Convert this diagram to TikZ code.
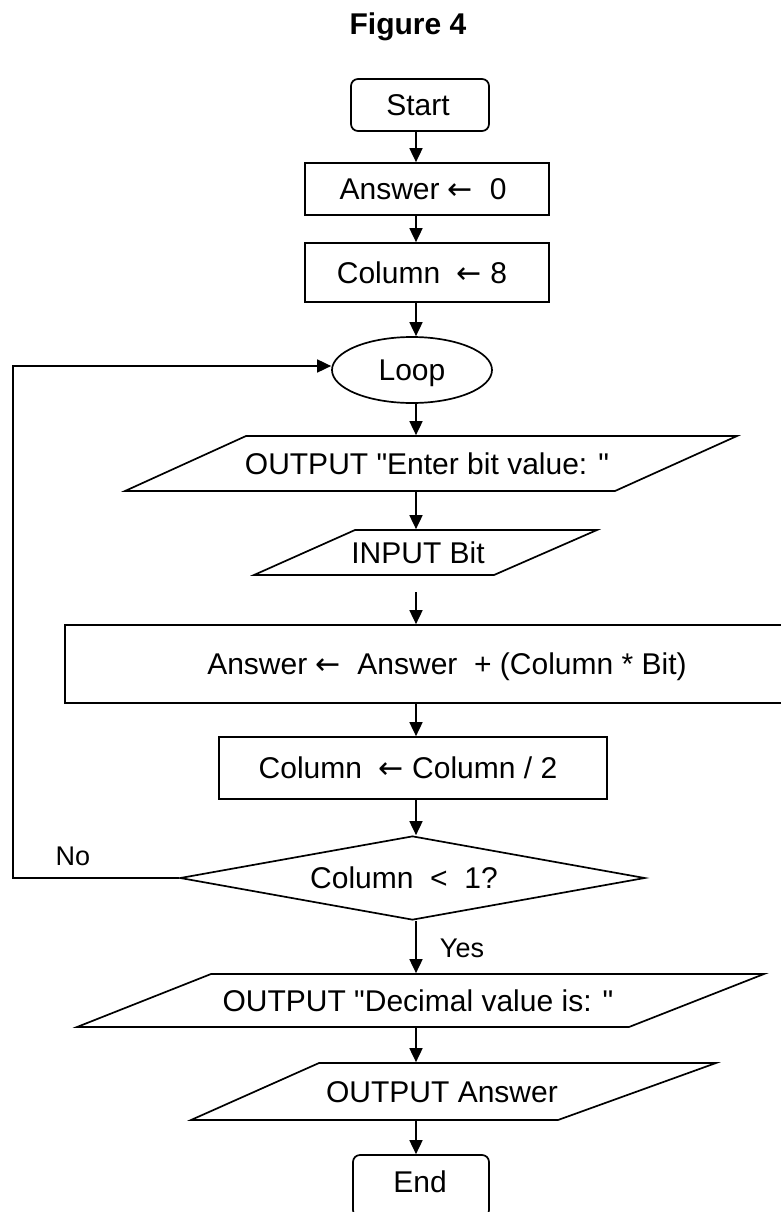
\documentclass[tikz,border=0pt]{standalone}
\usepackage{fontspec}
\setmainfont{Liberation Sans}[Ligatures=TeXOff]
\newfontfamily\arrowfont{DejaVu Sans}
\newcommand{\larr}{{\arrowfont ←}}
\usetikzlibrary{arrows.meta,shapes.geometric}
\begin{document}
\begin{tikzpicture}[x=1pt,y=-1pt,line width=1.7pt,
  box/.style={draw,rectangle,inner sep=0pt},
  txt/.style={font=\fontsize{30}{35}\selectfont,inner sep=0pt,text height=21.5pt,text depth=0pt},
  lbl/.style={font=\fontsize{27}{32}\selectfont,inner sep=0pt,text height=19pt,text depth=0pt},
  anch/.style={inner sep=0pt,minimum width=2pt},
  arr/.style={-{Triangle[length=14pt,width=13pt]}},
  io/.style={draw,line join=miter}]
\useasboundingbox (0,0) rectangle (781,1212);
% title
\node[font=\bfseries\fontsize{30}{35}\selectfont,inner sep=0pt,text height=21pt,text depth=0pt] (title) at (408,24) {Figure 4};
% Start
\node[box,rounded corners=7pt,minimum width=138pt,minimum height=52pt] (start) at (420,105) {};
\node[txt] (tstart) at (418,105) {Start};
% Answer <- 0
\node[box,minimum width=244pt,minimum height=52pt] (ans0) at (427,189) {};
\node[txt] (tans0) at (423,189) {Answer \larr\ \ 0};
% Column <- 8
\node[box,minimum width=244pt,minimum height=59pt] (col8) at (427,272.5) {};
\node[txt] (tcol8) at (422,272.5) {Column\ \ \larr\ 8};
% Loop
\node[draw,ellipse,minimum width=160pt,minimum height=66pt,inner sep=0pt] (loop) at (412,370) {};
\node[txt] (tloop) at (412,370) {Loop};
% OUTPUT Enter bit value
\draw[io] (246,436) -- (737,436) -- (615,491) -- (125,491) -- cycle;
\node[anch,minimum height=55pt] (out1) at (416,463.5) {};
\node[txt] (tout1) at (427,463.5) {OUTPUT "Enter bit value: "};
% INPUT Bit
\draw[io] (355,530) -- (597,530) -- (494,575) -- (254,575) -- cycle;
\node[anch,minimum height=45pt] (inp) at (416,552.5) {};
\node[txt] (tinp) at (418,552.5) {INPUT Bit};
\coordinate (gap) at (416,592);
% Answer <- Answer + ...
\node[box,minimum width=735pt,minimum height=78pt] (calc) at (432.5,664) {};
\node[txt] (tcalc) at (447,664) {Answer \larr\ \ Answer\ \ + (Column * Bit)};
% Column <- Column / 2
\node[box,minimum width=388pt,minimum height=62pt] (half) at (413,768) {};
\node[txt] (thalf) at (408,768) {Column\ \ \larr\ Column / 2};
% decision
\node[draw,diamond,aspect=5.5,minimum width=465pt,minimum height=84pt,inner sep=0pt] (dec) at (412.5,878) {};
\node[txt] (tdec) at (404,878) {Column\ \ <\ \ 1?};
% OUTPUT Decimal value is
\draw[io] (211,974) -- (764,974) -- (629,1027) -- (77,1027) -- cycle;
\node[anch,minimum height=53pt] (out2) at (416,1000.5) {};
\node[txt] (tout2) at (418,1000.5) {OUTPUT "Decimal value is: "};
% OUTPUT Answer
\draw[io] (319,1063) -- (716,1063) -- (558,1120) -- (191,1120) -- cycle;
\node[anch,minimum height=57pt] (out3) at (416,1091.5) {};
\node[txt] (tout3) at (442,1091.5) {OUTPUT Answer};
% End
\node[box,rounded corners=7pt,minimum width=136pt,minimum height=62pt] (stop) at (421,1186) {};
\node[txt] (tstop) at (420,1182) {End};
% labels
\node[lbl] (no) at (73,856) {No};
\node[lbl] (yes) at (462,948) {Yes};
% connectors
\coordinate (cb) at (13,878);
\coordinate (ct) at (13,366);
\draw[arr] (start.south -| 416,0) -- (ans0.north -| 416,0);
\draw[arr] (ans0.south -| 416,0) -- (col8.north -| 416,0);
\draw[arr] (col8.south -| 416,0) -- (loop.north -| 416,0);
\draw[arr] (loop.south -| 416,0) -- (out1.north);
\draw[arr] (out1.south) -- (inp.north);
\draw[arr] (gap) -- (gap |- calc.north);
\draw[arr] (calc.south -| 416,0) -- (half.north -| 416,0);
\draw[arr] (half.south -| 416,0) -- (dec.north -| 416,0);
\draw[arr] (dec.south -| 416,0) -- (out2.north);
\draw[arr] (out2.south) -- (out3.north);
\draw[arr] (out3.south) -- (stop.north -| 416,0);
\draw[arr] (dec.west) -- (cb) -- (ct) -- (ct -| loop.west);
\end{tikzpicture}
\end{document}
